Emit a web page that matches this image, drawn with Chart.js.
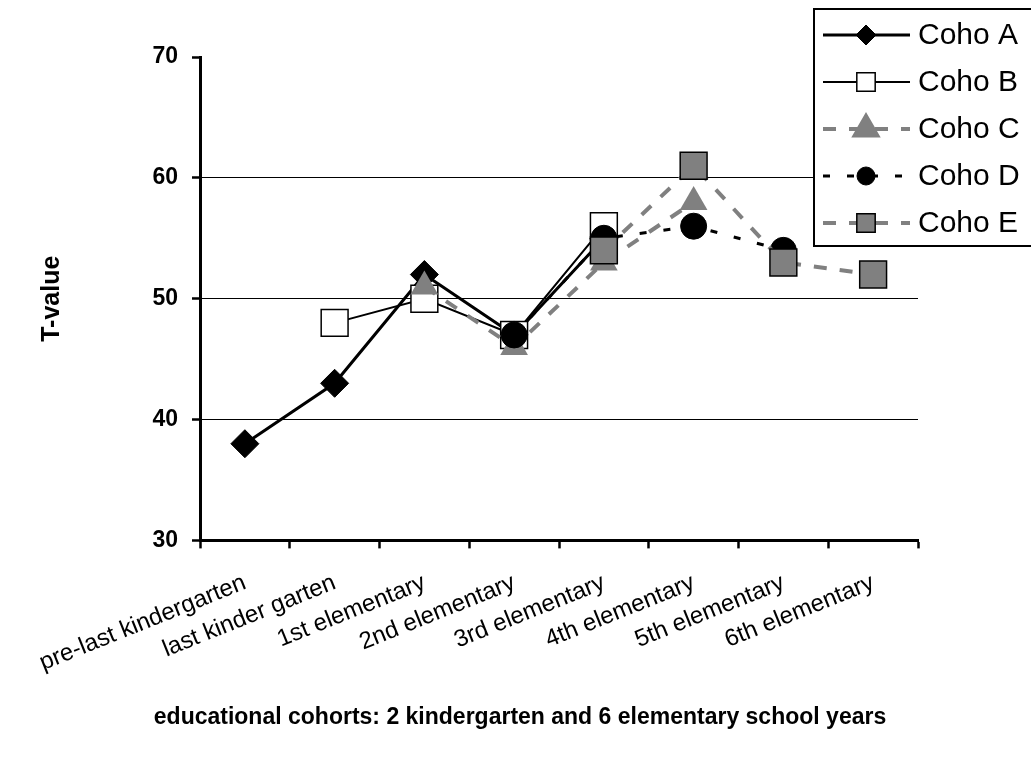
<!DOCTYPE html>
<html>
<head>
<meta charset="utf-8">
<script src="https://cdn.jsdelivr.net/npm/chart.js@4"></script>
<style>
  html, body { margin: 0; padding: 0; background: #fff; }
</style>
</head>
<body>
<canvas id="myChart" width="1031" height="763"></canvas>
<script>
const cohorts = ['pre-last kindergarten', 'last kinder garten', '1st elementary', '2nd elementary',
                 '3rd elementary', '4th elementary', '5th elementary', '6th elementary'];
const cohoA = [38, 43, 52, 47, 55, null, null, null];
const cohoB = [null, 48, 50, 47, 56, null, null, null];
const cohoC = [null, null, 51, 46, 53, 58, null, null];
const cohoD = [null, null, null, 47, 55, 56, 54, null];
const cohoE = [null, null, null, null, 54, 61, 53, 52];
const yTicks = [30, 40, 50, 60, 70];

const family = '"Liberation Sans", Arial, sans-serif';
const gray = '#808080';

// small marker painter, used for the legend box
function drawMarker(ctx, style, r, x, y) {
  ctx.beginPath();
  if (style === 'circle') {
    ctx.arc(x, y, r, 0, Math.PI * 2);
  } else if (style === 'rect') {
    const s = r * Math.SQRT1_2;
    ctx.rect(x - s, y - s, 2 * s, 2 * s);
  } else if (style === 'rectRot') {
    ctx.moveTo(x, y - r); ctx.lineTo(x + r, y); ctx.lineTo(x, y + r); ctx.lineTo(x - r, y);
    ctx.closePath();
  } else if (style === 'triangle') {
    ctx.moveTo(x, y - r);
    ctx.lineTo(x + r * Math.sin(Math.PI * 2 / 3), y + r * 0.5);
    ctx.lineTo(x - r * Math.sin(Math.PI * 2 / 3), y + r * 0.5);
    ctx.closePath();
  }
  ctx.fill();
  if (ctx.lineWidth > 0) ctx.stroke();
}

const legendBox = {
  id: 'legendBox',
  afterDraw(chart) {
    const ctx = chart.ctx;
    ctx.save();
    ctx.fillStyle = '#fff';
    ctx.strokeStyle = '#000';
    ctx.lineWidth = 2;
    ctx.fillRect(814, 9, 240, 237);
    ctx.strokeRect(814, 9, 240, 237);
    chart.data.datasets.forEach((ds, i) => {
      const y = 35 + i * 47;
      ctx.save();
      ctx.strokeStyle = ds.borderColor;
      ctx.lineWidth = ds.borderWidth;
      ctx.setLineDash(ds.borderDash || []);
      ctx.beginPath();
      ctx.moveTo(823, y);
      ctx.lineTo(910, y);
      ctx.stroke();
      ctx.setLineDash([]);
      ctx.fillStyle = ds.pointBackgroundColor;
      ctx.strokeStyle = ds.pointBorderColor;
      ctx.lineWidth = ds.pointBorderWidth;
      drawMarker(ctx, ds.pointStyle, ds.legendRadius, 866, y);
      ctx.restore();
      ctx.fillStyle = '#000';
      ctx.font = '30px ' + family;
      ctx.textBaseline = 'middle';
      ctx.fillText(ds.label, 918, y + 1);
    });
    ctx.restore();
  }
};

new Chart(document.getElementById('myChart'), {
  type: 'line',
  data: {
    labels: cohorts,
    datasets: [
      { label: 'Coho A', data: cohoA, borderColor: '#000', borderWidth: 3, pointStyle: 'rectRot',
        pointRadius: 14, pointBackgroundColor: '#000', pointBorderColor: '#000', pointBorderWidth: 1,
        legendRadius: 10, order: 5 },
      { label: 'Coho B', data: cohoB, borderColor: '#000', borderWidth: 2, pointStyle: 'rect',
        pointRadius: 19, pointBackgroundColor: '#fff', pointBorderColor: '#000', pointBorderWidth: 1.5,
        legendRadius: 13, order: 4 },
      { label: 'Coho C', data: cohoC, borderColor: gray, borderWidth: 4, borderDash: [13, 13], pointStyle: 'triangle',
        pointRadius: 16, pointBackgroundColor: gray, pointBorderColor: gray, pointBorderWidth: 0,
        legendRadius: 13, order: 3 },
      { label: 'Coho D', data: cohoD, borderColor: '#000', borderWidth: 3, borderDash: [7, 17], pointStyle: 'circle',
        pointRadius: 13, pointBackgroundColor: '#000', pointBorderColor: '#000', pointBorderWidth: 1,
        legendRadius: 9, order: 2 },
      { label: 'Coho E', data: cohoE, borderColor: gray, borderWidth: 4, borderDash: [13, 13], pointStyle: 'rect',
        pointRadius: 19, pointBackgroundColor: gray, pointBorderColor: '#000', pointBorderWidth: 1.5,
        legendRadius: 13, order: 1 }
    ]
  },
  options: {
    responsive: false,
    animation: false,
    layout: { padding: { left: 9, top: 57, right: 0, bottom: 23 } },
    plugins: {
      legend: { display: false },
      tooltip: { enabled: false },
      title: {
        display: true, position: 'bottom', color: '#000',
        text: 'educational cohorts: 2 kindergarten and 6 elementary school years',
        font: { family: family, size: 23, weight: 'bold' },
        padding: { top: 13, bottom: 9 }
      }
    },
    scales: {
      x: {
        offset: true,
        grid: { offset: true, drawOnChartArea: false, tickLength: 8, tickColor: '#000', tickWidth: 2.5 },
        border: { color: '#000', width: 3 },
        ticks: { color: '#000', font: { family: family, size: 24 }, minRotation: 22, maxRotation: 22,
                 autoSkip: false, padding: 20 },
        afterFit(s) { s.height = 150; }
      },
      y: {
        min: 30, max: 70,
        afterBuildTicks(s) { s.ticks = yTicks.map(v => ({ value: v })); },
        grid: {
          color: c => (c.tick && c.tick.value > 30 && c.tick.value < 70) ? '#000' : 'rgba(0,0,0,0)',
          tickColor: '#000', tickLength: 8, tickWidth: 2.5
        },
        border: { color: '#000', width: 3 },
        ticks: { color: '#000', font: { family: family, size: 23, weight: 'bold' }, padding: 14 },
        title: { display: true, text: 'T-value', color: '#000',
                 font: { family: family, size: 25, weight: 'bold' }, padding: { top: 28, bottom: 0 } },
        afterFit(s) { s.width = 191; }
      },
      yR: {
        position: 'right',
        grid: { display: false },
        border: { display: false },
        ticks: { display: false },
        afterFit(s) { s.width = 113; }
      }
    }
  },
  plugins: [legendBox]
});
</script>
</body>
</html>
